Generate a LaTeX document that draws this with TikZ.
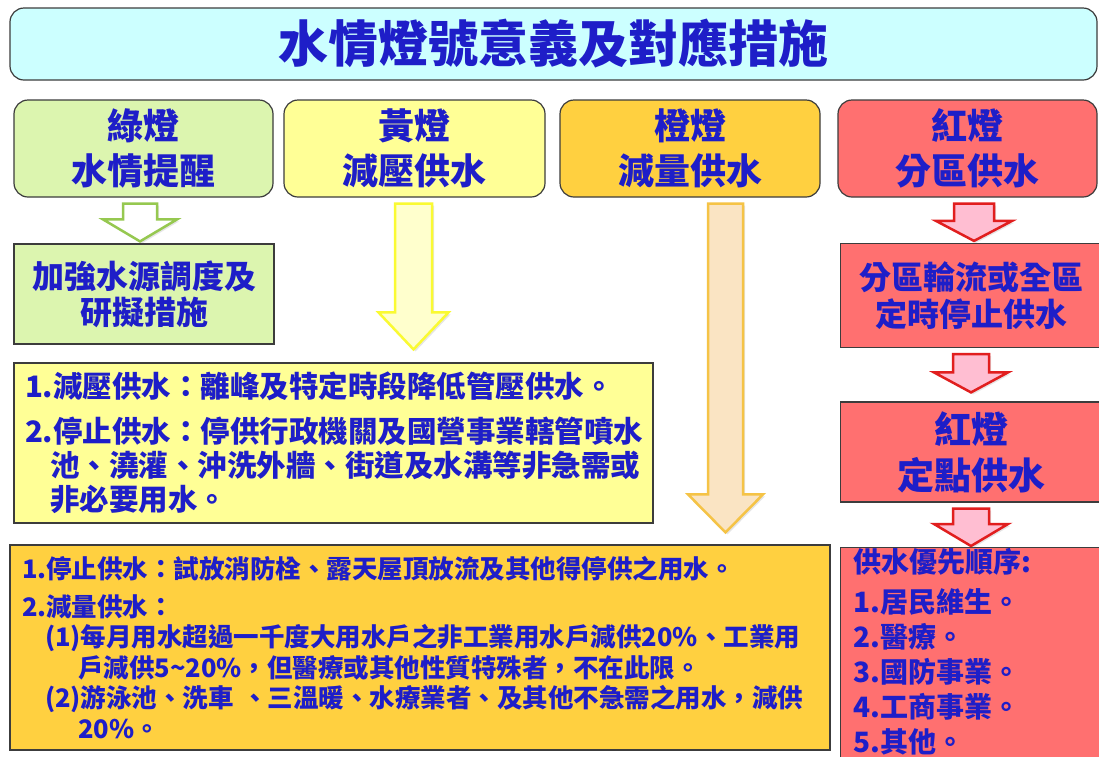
\documentclass[tikz,border=0pt]{standalone}
\usepackage{fontspec}
\setmainfont{Noto Sans CJK TC}
\usepackage{tikz}
\usetikzlibrary{calc}
\usetikzlibrary{shadows}
\definecolor{txtblue}{RGB}{30,30,200}
\definecolor{titlefill}{RGB}{204,255,255}
\definecolor{greenfill}{RGB}{220,245,175}
\definecolor{yellowfill}{RGB}{255,255,150}
\definecolor{orangefill}{RGB}{255,208,64}
\definecolor{redfill}{RGB}{255,112,112}
\definecolor{edgegray}{RGB}{60,60,60}
\definecolor{greenline}{RGB}{150,200,80}
\definecolor{yellowline}{RGB}{250,250,50}
\definecolor{yellowarr}{RGB}{255,255,205}
\definecolor{orangeline}{RGB}{245,195,70}
\definecolor{orangearr}{RGB}{250,228,195}
\definecolor{redline}{RGB}{225,30,30}
\definecolor{redarr}{RGB}{255,190,210}
\tikzset{
  box/.style={draw=edgegray, line width=1.2pt, text=txtblue, inner sep=0pt, align=center},
  lamp/.style={box, rounded corners=14pt, minimum height=97pt, font=\bfseries\fontsize{36}{45}\selectfont},
  plain/.style={box},
  arr/.style={line width=2.5pt, line join=miter, drop shadow={opacity=0.2, shadow xshift=2pt, shadow yshift=-2pt}},
  garrow/.style={arr, draw=greenline, fill=white},
  yarrow/.style={arr, draw=yellowline, fill=yellowarr},
  oarrow/.style={arr, draw=orangeline, fill=orangearr},
  rarrow/.style={arr, draw=redline, fill=redarr}
}
\newcommand{\blockarrow}[8]{\draw[#1] let \p1=(#3.south), \p2=(#4.north) in
  (#2pt-#6pt,\y1-6pt) -- (#2pt+#6pt,\y1-6pt) -- (#2pt+#6pt,\y2+#5pt+#8pt)
  -- (#2pt+#7pt,\y2+#5pt+#8pt) -- (#2pt,\y2+#5pt) -- (#2pt-#7pt,\y2+#5pt+#8pt)
  -- (#2pt-#6pt,\y2+#5pt+#8pt) -- cycle;}
\begin{document}
\begin{tikzpicture}[x=1pt, y=-1pt]
    \useasboundingbox (0,0) rectangle (1099,756);
    \fill[white] (0,0) rectangle (1099,756);
    %title
    \node[box, fill=titlefill, rounded corners=14pt, minimum width=1087pt, minimum height=72pt,
      font=\bfseries\fontsize{50}{60}\selectfont] (t) at (553.5,44) {水情燈號意義及對應措施};
    %lamps
    \node[lamp, fill=greenfill, minimum width=259pt] (g0) at (143.5,148.5) {綠燈\\水情提醒};
    \node[lamp, fill=yellowfill, minimum width=261pt] (y0) at (414.5,148.5) {黃燈\\減壓供水};
    \node[lamp, fill=orangefill, minimum width=260pt] (o0) at (690,148.5) {橙燈\\減量供水};
    \node[lamp, fill=redfill, minimum width=259pt] (r0) at (967.5,148.5) {紅燈\\分區供水};
    %measures
    \node[plain, fill=greenfill, minimum width=260pt, minimum height=100pt,
      font=\bfseries\fontsize{32}{36}\selectfont] (g1) at (144,294) {加強水源調度及\\研擬措施};
    \node[plain, fill=yellowfill, text width=617pt, inner xsep=11pt, minimum height=160pt, align=left,
      font=\bfseries\fontsize{29.5}{34}\selectfont] (y1) at (333.5,443)
      {1.減壓供水：離峰及特定時段降低管壓供水。\\[11pt]2.停止供水：停供行政機關及國營事業轄管噴水\\\hspace*{25pt}池、澆灌、沖洗外牆、街道及水溝等非急需或\\\hspace*{25pt}非必要用水。};
    \node[plain, fill=orangefill, text width=796pt, inner xsep=12pt, minimum height=205pt, align=left,
      font=\bfseries\fontsize{25.5}{30.5}\selectfont] (o1) at (420,647.5)
      {1.停止供水：試放消防栓、露天屋頂放流及其他得停供之用水。\\[7.5pt]2.減量供水：\\\hspace*{23pt}(1)每月用水超過一千度大用水戶之非工業用水戶減供20\%、工業用\\\hspace*{56pt}戶減供5\textasciitilde20\%，但醫療或其他性質特殊者，不在此限。\\\hspace*{23pt}(2)游泳池、洗車 、三溫暖、水療業者、及其他不急需之用水，減供\\\hspace*{56pt}20\%。};
    \node[plain, fill=redfill, minimum width=262pt, minimum height=104pt, anchor=west,
      font=\bfseries\fontsize{32}{37}\selectfont] (r1) at (840,295.5) {分區輪流或全區\\定時停止供水};
    \node[plain, fill=redfill, minimum width=262pt, minimum height=100pt, anchor=west,
      font=\bfseries\fontsize{37}{46}\selectfont] (r2) at (840,452) {紅燈\\定點供水};
    \node[plain, fill=redfill, text width=236pt, inner xsep=13pt, inner ysep=1pt, anchor=north west, align=left,
      font=\bfseries\fontsize{28}{35}\selectfont] (r3) at (840,547)
      {供水優先順序:\\[5pt]1.居民維生。\\2.醫療。\\3.國防事業。\\4.工商事業。\\5.其他。\\ \mbox{}};
    %arrows
    \blockarrow{garrow}{140}{g0}{g1}{2}{17}{37}{22}
    \blockarrow{yarrow}{413.5}{y0}{y1}{13}{18.5}{35}{37}
    \blockarrow{oarrow}{725.5}{o0}{o1}{12}{17.5}{37.5}{38}
    \blockarrow{rarrow}{974}{r0}{r1}{2}{20}{38}{20}
    \blockarrow{rarrow}{971}{r1}{r2}{9}{18}{37}{20}
    \blockarrow{rarrow}{971}{r2}{r3}{1}{18}{37}{22}
\end{tikzpicture}
\end{document}
